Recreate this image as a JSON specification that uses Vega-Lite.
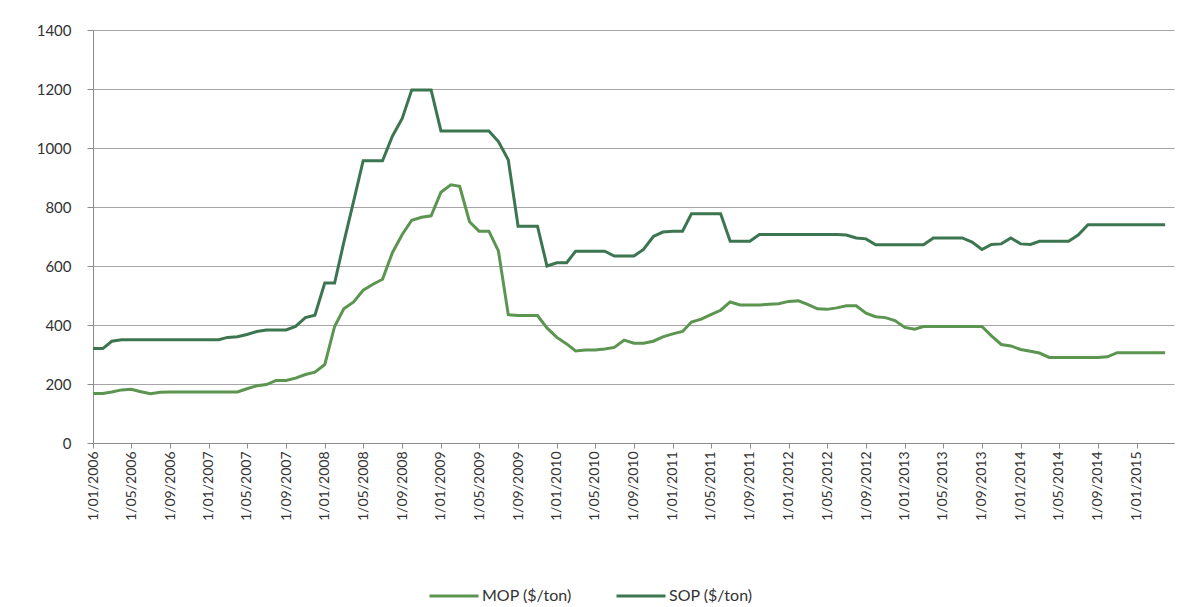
{
  "$schema": "https://vega.github.io/schema/vega-lite/v6.json",
  "width": 1081,
  "height": 413,
  "autosize": {"type": "none"},
  "padding": {"left": 93, "top": 30, "right": 15, "bottom": 164},
  "background": "white",
  "config": {"view": {"stroke": null}, "font": "Lato"},
  "data": {"values": [
    {"d":"2006-01-01","MOP":168,"SOP":320},{"d":"2006-02-01","MOP":168,"SOP":320},{"d":"2006-03-01","MOP":173,"SOP":345},{"d":"2006-04-01","MOP":180,"SOP":350},
    {"d":"2006-05-01","MOP":182,"SOP":350},{"d":"2006-06-01","MOP":174,"SOP":350},{"d":"2006-07-01","MOP":167,"SOP":350},{"d":"2006-08-01","MOP":172,"SOP":350},
    {"d":"2006-09-01","MOP":173,"SOP":350},{"d":"2006-10-01","MOP":173,"SOP":350},{"d":"2006-11-01","MOP":173,"SOP":350},{"d":"2006-12-01","MOP":173,"SOP":350},
    {"d":"2007-01-01","MOP":173,"SOP":350},{"d":"2007-02-01","MOP":173,"SOP":350},{"d":"2007-03-01","MOP":173,"SOP":358},{"d":"2007-04-01","MOP":173,"SOP":360},
    {"d":"2007-05-01","MOP":184,"SOP":368},{"d":"2007-06-01","MOP":194,"SOP":378},{"d":"2007-07-01","MOP":198,"SOP":383},{"d":"2007-08-01","MOP":212,"SOP":383},
    {"d":"2007-09-01","MOP":212,"SOP":383},{"d":"2007-10-01","MOP":220,"SOP":395},{"d":"2007-11-01","MOP":232,"SOP":425},{"d":"2007-12-01","MOP":240,"SOP":433},
    {"d":"2008-01-01","MOP":266,"SOP":542},{"d":"2008-02-01","MOP":395,"SOP":542},{"d":"2008-03-01","MOP":455,"SOP":680},{"d":"2008-04-01","MOP":478,"SOP":820},
    {"d":"2008-05-01","MOP":518,"SOP":957},{"d":"2008-06-01","MOP":538,"SOP":957},{"d":"2008-07-01","MOP":555,"SOP":957},{"d":"2008-08-01","MOP":645,"SOP":1040},
    {"d":"2008-09-01","MOP":707,"SOP":1100},{"d":"2008-10-01","MOP":755,"SOP":1197},{"d":"2008-11-01","MOP":765,"SOP":1197},{"d":"2008-12-01","MOP":770,"SOP":1197},
    {"d":"2009-01-01","MOP":850,"SOP":1058},{"d":"2009-02-01","MOP":875,"SOP":1058},{"d":"2009-03-01","MOP":870,"SOP":1058},{"d":"2009-04-01","MOP":750,"SOP":1058},
    {"d":"2009-05-01","MOP":718,"SOP":1058},{"d":"2009-06-01","MOP":718,"SOP":1058},{"d":"2009-07-01","MOP":651,"SOP":1022},{"d":"2009-08-01","MOP":435,"SOP":960},
    {"d":"2009-09-01","MOP":432,"SOP":735},{"d":"2009-10-01","MOP":432,"SOP":735},{"d":"2009-11-01","MOP":432,"SOP":735},{"d":"2009-12-01","MOP":390,"SOP":600},
    {"d":"2010-01-01","MOP":358,"SOP":611},{"d":"2010-02-01","MOP":336,"SOP":611},{"d":"2010-03-01","MOP":312,"SOP":650},{"d":"2010-04-01","MOP":315,"SOP":650},
    {"d":"2010-05-01","MOP":315,"SOP":650},{"d":"2010-06-01","MOP":319,"SOP":650},{"d":"2010-07-01","MOP":324,"SOP":634},{"d":"2010-08-01","MOP":349,"SOP":634},
    {"d":"2010-09-01","MOP":338,"SOP":634},{"d":"2010-10-01","MOP":338,"SOP":656},{"d":"2010-11-01","MOP":345,"SOP":700},{"d":"2010-12-01","MOP":360,"SOP":715},
    {"d":"2011-01-01","MOP":370,"SOP":718},{"d":"2011-02-01","MOP":378,"SOP":718},{"d":"2011-03-01","MOP":410,"SOP":777},{"d":"2011-04-01","MOP":420,"SOP":777},
    {"d":"2011-05-01","MOP":435,"SOP":777},{"d":"2011-06-01","MOP":450,"SOP":777},{"d":"2011-07-01","MOP":478,"SOP":684},{"d":"2011-08-01","MOP":468,"SOP":684},
    {"d":"2011-09-01","MOP":468,"SOP":684},{"d":"2011-10-01","MOP":468,"SOP":707},{"d":"2011-11-01","MOP":470,"SOP":707},{"d":"2011-12-01","MOP":472,"SOP":707},
    {"d":"2012-01-01","MOP":480,"SOP":707},{"d":"2012-02-01","MOP":482,"SOP":707},{"d":"2012-03-01","MOP":470,"SOP":707},{"d":"2012-04-01","MOP":455,"SOP":707},
    {"d":"2012-05-01","MOP":453,"SOP":707},{"d":"2012-06-01","MOP":458,"SOP":707},{"d":"2012-07-01","MOP":465,"SOP":705},{"d":"2012-08-01","MOP":465,"SOP":695},
    {"d":"2012-09-01","MOP":440,"SOP":692},{"d":"2012-10-01","MOP":428,"SOP":672},{"d":"2012-11-01","MOP":425,"SOP":672},{"d":"2012-12-01","MOP":415,"SOP":672},
    {"d":"2013-01-01","MOP":392,"SOP":672},{"d":"2013-02-01","MOP":386,"SOP":672},{"d":"2013-03-01","MOP":395,"SOP":672},{"d":"2013-04-01","MOP":395,"SOP":695},
    {"d":"2013-05-01","MOP":395,"SOP":695},{"d":"2013-06-01","MOP":395,"SOP":695},{"d":"2013-07-01","MOP":395,"SOP":695},{"d":"2013-08-01","MOP":395,"SOP":681},
    {"d":"2013-09-01","MOP":395,"SOP":656},{"d":"2013-10-01","MOP":363,"SOP":673},{"d":"2013-11-01","MOP":334,"SOP":675},{"d":"2013-12-01","MOP":329,"SOP":695},
    {"d":"2014-01-01","MOP":317,"SOP":675},{"d":"2014-02-01","MOP":311,"SOP":673},{"d":"2014-03-01","MOP":305,"SOP":684},{"d":"2014-04-01","MOP":290,"SOP":684},
    {"d":"2014-05-01","MOP":290,"SOP":684},{"d":"2014-06-01","MOP":290,"SOP":684},{"d":"2014-07-01","MOP":290,"SOP":705},{"d":"2014-08-01","MOP":290,"SOP":740},
    {"d":"2014-09-01","MOP":290,"SOP":740},{"d":"2014-10-01","MOP":292,"SOP":740},{"d":"2014-11-01","MOP":306,"SOP":740},{"d":"2014-12-01","MOP":306,"SOP":740},
    {"d":"2015-01-01","MOP":306,"SOP":740},{"d":"2015-02-01","MOP":306,"SOP":740},{"d":"2015-03-01","MOP":306,"SOP":740},{"d":"2015-04-01","MOP":306,"SOP":740}
  ]},
  "transform": [{"fold": ["MOP", "SOP"], "as": ["series", "value"]}],
  "mark": {"type": "line", "strokeWidth": 3},
  "encoding": {
    "x": {
      "field": "d",
      "type": "temporal",
      "scale": {"type": "utc", "domain": [{"year": 2006, "month": 1, "date": 1, "utc": true}, {"year": 2015, "month": 4, "date": 29, "utc": true}]},
      "axis": {
        "title": null,
        "format": "%-d/%m/%Y",
        "tickCount": {"interval": "month", "step": 4},
        "labelAngle": 270,
        "labelOverlap": false,
        "labelFlush": false,
        "labelFontSize": 14,
        "labelColor": "#333333",
        "labelPadding": 3,
        "tickSize": 5,
        "tickColor": "#8c8c8c",
        "domainColor": "#8c8c8c",
        "grid": false
      }
    },
    "y": {
      "field": "value",
      "type": "quantitative",
      "scale": {"domain": [0, 1400]},
      "axis": {
        "title": null,
        "format": "d",
        "values": [0, 200, 400, 600, 800, 1000, 1200, 1400],
        "grid": true,
        "gridColor": "#a6a6a6",
        "tickSize": 6,
        "tickColor": "#8c8c8c",
        "domainColor": "#8c8c8c",
        "labelPadding": 16,
        "labelFontSize": 15,
        "labelColor": "#333333"
      }
    },
    "color": {
      "field": "series",
      "type": "nominal",
      "scale": {"domain": ["MOP", "SOP"], "range": ["#5b9550", "#3c7650"]},
      "legend": {
        "title": null,
        "orient": "none",
        "legendX": 335,
        "legendY": 540,
        "direction": "horizontal",
        "symbolType": "stroke",
        "symbolSize": 2400,
        "symbolStrokeWidth": 3,
        "labelFontSize": 16,
        "labelColor": "#333333",
        "labelOffset": 2,
        "columnPadding": 38,
        "labelExpr": "datum.label + ' ($/ton)'"
      }
    }
  }
}
